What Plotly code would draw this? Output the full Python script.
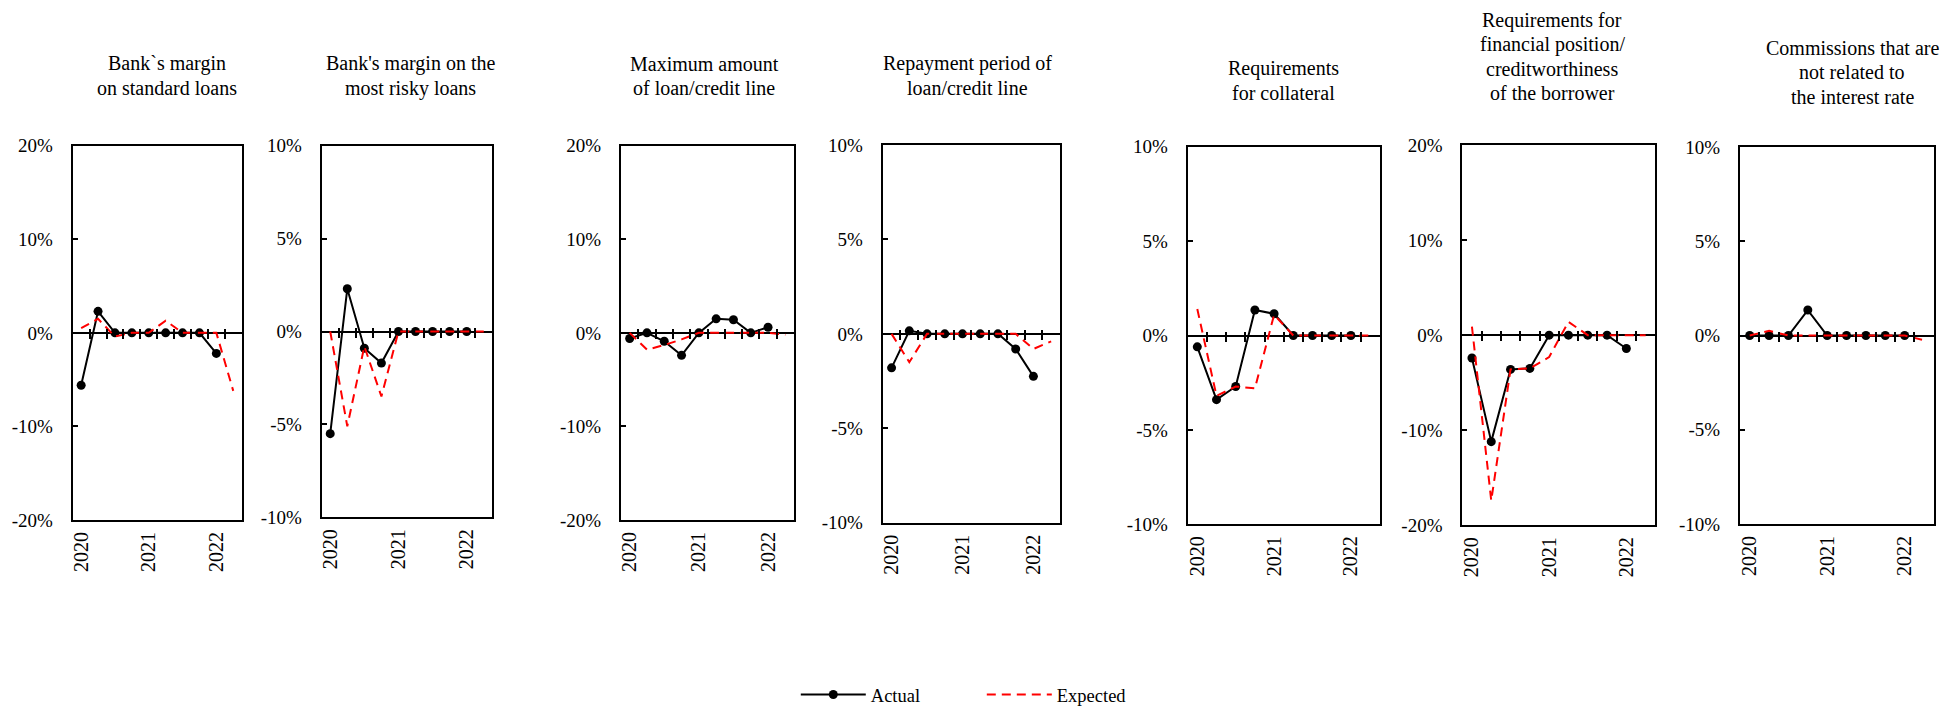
import plotly.graph_objects as go

# Quarterly survey periods (category axis)
quarters = ["2020Q1", "2020Q2", "2020Q3", "2020Q4",
            "2021Q1", "2021Q2", "2021Q3", "2021Q4",
            "2022Q1", "2022Q2"]
year_labels = ["2020", "2021", "2022"]

titles = [
    "Bank`s margin<br>on standard loans",
    "Bank's margin on the<br>most risky loans",
    "Maximum amount<br>of loan/credit line",
    "Repayment period of<br>loan/credit line",
    "Requirements<br>for collateral",
    "Requirements for<br>financial position/<br>creditworthiness<br>of the borrower",
    "Commissions that are<br>not related to<br>the interest rate",
]

# Net balance, % (Actual to 2022Q1, Expected to 2022Q2)
actual_margin_standard = [-5.6, 2.3, 0, 0, 0, 0, 0, 0, -2.2]
expected_margin_standard = [0.5, 1.5, -0.4, 0, 0, 1.3, 0, 0, 0, -6.2]

actual_margin_risky = [-5.5, 2.3, -0.9, -1.7, 0, 0, 0, 0, 0]
expected_margin_risky = [0, -5.1, -0.8, -3.5, 0, 0, 0, 0, 0, 0]

actual_max_amount = [-0.6, 0, -0.9, -2.4, 0, 1.5, 1.4, 0, 0.6]
expected_max_amount = [0, -1.8, -1.3, -0.7, 0, 0, 0, 0, 0, -0.2]

actual_repayment = [-1.8, 0.16, 0, 0, 0, 0, 0, -0.8, -2.25]
expected_repayment = [0, -1.5, 0, 0, 0, 0, 0, 0, -0.8, -0.4]

actual_collateral = [-0.6, -3.4, -2.7, 1.35, 1.15, 0, 0, 0, 0]
expected_collateral = [1.4, -3.2, -2.7, -2.8, 1.1, 0, 0, 0, 0, 0]

actual_borrower = [-2.4, -11.2, -3.6, -3.5, 0, 0, 0, 0, -1.4]
expected_borrower = [0.9, -17.4, -3.6, -3.5, -2.3, 1.4, 0, 0, 0, 0]

actual_commissions = [0, 0, 0, 1.35, 0, 0, 0, 0, 0]
expected_commissions = [0, 0.25, 0, 0, 0, 0, 0, 0, 0, -0.25]

actual_series = [actual_margin_standard, actual_margin_risky, actual_max_amount,
                 actual_repayment, actual_collateral, actual_borrower, actual_commissions]
expected_series = [expected_margin_standard, expected_margin_risky, expected_max_amount,
                   expected_repayment, expected_collateral, expected_borrower, expected_commissions]
y_limits = [20, 10, 20, 10, 10, 20, 10]

# ---- layout geometry (pixels) ----
W, H = 1948, 706
# plot boxes: left, right, top, bottom
boxes = [
    (72.7, 241.7, 145.7, 520.0),
    (321.7, 492.3, 145.7, 517.3),
    (621.0, 794.0, 145.7, 520.0),
    (882.7, 1060.0, 145.0, 522.7),
    (1187.7, 1379.7, 146.7, 524.3),
    (1462.3, 1655.3, 145.0, 525.3),
    (1740.0, 1933.7, 147.0, 524.0),
]
# title block centres and line pitch
title_pos = [(167, 75), (410, 75), (704, 75), (967, 75), (1283, 79.5), (1552, 55.5), (1852, 71.5)]
LINE_PITCH = 24.2
TITLE_SHIFT = 1

FONT = "Liberation Serif, Times New Roman, serif"
positions = list(range(len(quarters)))
year_ticks = [quarters.index(y + "Q1") for y in year_labels]
boundaries = [k + 0.5 for k in range(len(quarters) - 1)]
xr = [-0.5, len(quarters) - 0.5]


def pct(v):
    return f"{v:g}%"


fig = go.Figure()
n_panels = len(titles)

for i in range(n_panels):
    n = i + 1
    xname = "x" if n == 1 else f"x{n}"
    yname = "y" if n == 1 else f"y{n}"
    ov = n_panels + n
    left, right, top, bottom = boxes[i]
    xdom = [left / W, right / W]
    ydom = [1 - bottom / H, 1 - top / H]
    lim = y_limits[i]
    yticks = [-lim, -lim / 2, 0, lim / 2, lim]

    act = actual_series[i]
    exp = expected_series[i]

    fig.add_trace(go.Scatter(
        x=positions[:len(act)], y=act, customdata=quarters[:len(act)],
        mode="lines+markers", name="Actual",
        line=dict(color="black", width=2),
        marker=dict(color="black", size=9),
        xaxis=xname, yaxis=yname, showlegend=(i == 0), legendrank=1,
        hovertemplate="%{customdata}: %{y}%<extra>Actual</extra>",
    ))
    fig.add_trace(go.Scatter(
        x=positions[:len(exp)], y=exp, customdata=quarters[:len(exp)],
        mode="lines", name="Expected",
        line=dict(color="#ff0000", width=2, dash="9px,6px"),
        xaxis=xname, yaxis=yname, showlegend=(i == 0), legendrank=2,
        hovertemplate="%{customdata}: %{y}%<extra>Expected</extra>",
    ))
    # empty trace so the crossing tick axis gets its own subplot
    fig.add_trace(go.Scatter(x=[], y=[], xaxis=f"x{ov}", yaxis=yname,
                             showlegend=False, hoverinfo="skip"))

    fig.layout[f"xaxis{'' if n == 1 else n}"] = dict(
        domain=xdom, anchor=yname, range=xr,
        tickmode="array", tickvals=year_ticks, ticktext=year_labels,
        tickangle=-90, ticks="", showgrid=False, zeroline=False,
        showline=True, mirror=True, linecolor="black", linewidth=2,
        tickfont=dict(family=FONT, size=20, color="black"),
        ticklabelstandoff=2, fixedrange=True,
    )
    fig.layout[f"yaxis{'' if n == 1 else n}"] = dict(
        domain=ydom, anchor=xname, range=[-lim, lim],
        tickmode="array", tickvals=yticks, ticktext=[pct(v) for v in yticks],
        ticks="inside", ticklen=5, tickwidth=2, tickcolor="black",
        showgrid=False, zeroline=True, zerolinecolor="black", zerolinewidth=2,
        showline=True, mirror=True, linecolor="black", linewidth=2,
        tickfont=dict(family=FONT, size=19, color="black"),
        ticklabelstandoff=14, fixedrange=True,
    )
    # tick marks crossing the zero line at quarter boundaries
    zero_frac = ydom[0] + (0 + lim) / (2 * lim) * (ydom[1] - ydom[0])
    fig.layout[f"xaxis{ov}"] = dict(
        overlaying=xname, anchor="free", position=zero_frac + 5 / H,
        range=xr, tickmode="array", tickvals=boundaries,
        ticks="outside", ticklen=10, tickwidth=2, tickcolor="black",
        showticklabels=False, showline=False, showgrid=False, zeroline=False,
        fixedrange=True,
    )

    # panel title, one annotation per line
    tx, ty = title_pos[i]
    lines = titles[i].split("<br>")
    m = len(lines)
    for k, line in enumerate(lines):
        ly = ty + TITLE_SHIFT + (k - (m - 1) / 2) * LINE_PITCH
        fig.add_annotation(
            text=line, xref="paper", yref="paper",
            x=tx / W, y=1 - ly / H, xanchor="center", yanchor="middle",
            showarrow=False, align="center",
            font=dict(family=FONT, size=20, color="black"),
        )

fig.update_layout(
    width=W, height=H,
    margin=dict(l=0, r=0, t=0, b=0, autoexpand=False),
    paper_bgcolor="white", plot_bgcolor="white",
    showlegend=True,
    legend=dict(
        orientation="h", x=0.504, xanchor="center",
        y=1 - 676 / H, yanchor="top",
        font=dict(family=FONT, size=18.5, color="black"),
        itemwidth=65, entrywidth=106, traceorder="normal",
        bgcolor="rgba(0,0,0,0)",
    ),
)

fig.write_html("out.html")
